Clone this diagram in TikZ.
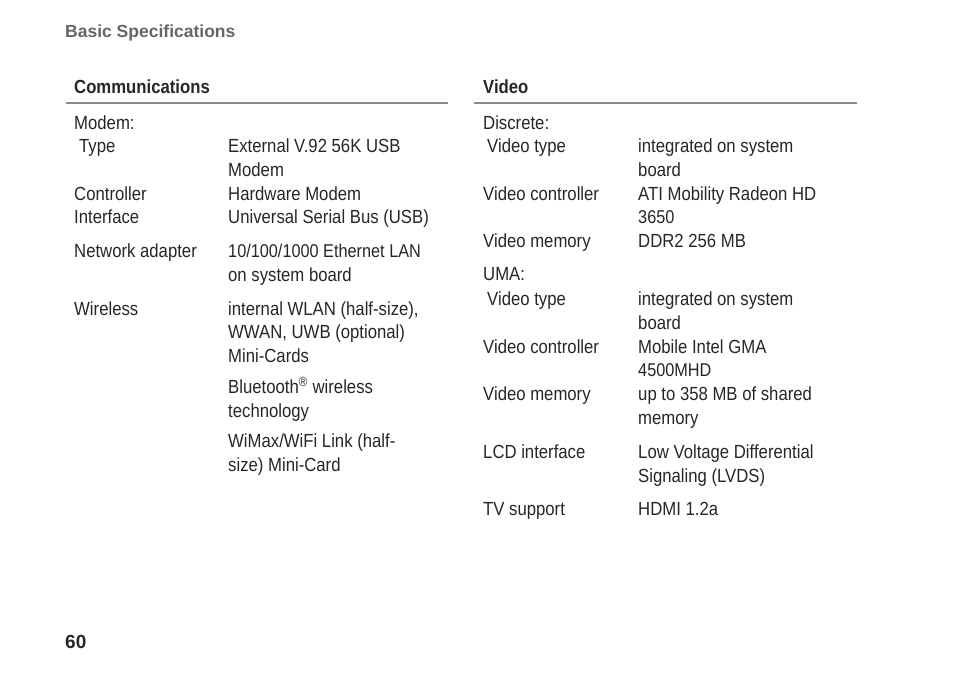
\documentclass[tikz,border=0pt]{standalone}
\usepackage{fontspec}
\setmainfont{Liberation Sans}[FakeStretch=0.88]
\newfontfamily\hdfont{Liberation Sans}
\begin{document}
\begin{tikzpicture}[x=1pt,y=-1pt,
  tx/.style={anchor=base west,inner sep=0pt,font=\fontsize{19}{20}\selectfont,text=black!85},
  sm/.style={tx,font=\fontsize{18.5}{20}\selectfont},
  hd/.style={tx,font=\fontsize{19}{20}\selectfont\bfseries},
  rl/.style={draw=black!45,line width=1.2pt}]
\useasboundingbox (0,0) rectangle (954,677);
\node[anchor=base west,inner sep=0pt,font=\hdfont\fontsize{17.5}{20}\selectfont\bfseries,text=black!60] (title) at (65,38) {Basic Specifications};
\node[hd] (hc) at (74,93) {Communications};
\node[hd] (hv) at (483,93) {Video};
\draw[rl] (66,103) -- (448,103);
\draw[rl] (474,103) -- (857,103);
% left
\node[tx] (a1) at (74,129) {Modem:};
\node[tx] (a2) at (79,152) {Type};
\node[tx] (b2) at (228,152) {External V.92 56K USB};
\node[tx] (b3) at (228,176) {Modem};
\node[tx] (a4) at (74,200) {Controller};
\node[tx] (b4) at (228,200) {Hardware Modem};
\node[tx] (a5) at (74,223) {Interface};
\node[tx] (b5) at (228,223) {Universal Serial Bus (USB)};
\node[tx] (a6) at (74,257) {Network adapter};
\node[sm] (b6) at (228,257) {10/100/1000 Ethernet LAN};
\node[tx] (b7) at (228,281) {on system board};
\node[tx] (a8) at (74,315) {Wireless};
\node[tx] (b8) at (228,315) {internal WLAN (half-size),};
\node[tx] (b9) at (228,338) {WWAN, UWB (optional)};
\node[tx] (b10) at (228,362) {Mini-Cards};
\node[tx] (b11) at (228,393) {Bluetooth\textsuperscript{\textregistered} wireless};
\node[tx] (b12) at (228,417) {technology};
\node[tx] (b13) at (228,447) {WiMax/WiFi Link (half-};
\node[tx] (b14) at (228,471) {size) Mini-Card};
% right
\node[tx] (c1) at (483,129) {Discrete:};
\node[tx] (c2) at (487,152) {Video type};
\node[tx] (d2) at (638,152) {integrated on system};
\node[tx] (d3) at (638,176) {board};
\node[tx] (c4) at (483,200) {Video controller};
\node[tx] (d4) at (638,200) {ATI Mobility Radeon HD};
\node[sm] (d5) at (638,223) {3650};
\node[tx] (c6) at (483,247) {Video memory};
\node[tx] (d6) at (638,247) {DDR2 256 MB};
\node[tx] (c7) at (483,280) {UMA:};
\node[tx] (c8) at (487,305) {Video type};
\node[tx] (d8) at (638,305) {integrated on system};
\node[tx] (d9) at (638,329) {board};
\node[tx] (c10) at (483,353) {Video controller};
\node[tx] (d10) at (638,353) {Mobile Intel GMA};
\node[sm] (d11) at (638,376) {4500MHD};
\node[tx] (c12) at (483,400) {Video memory};
\node[tx] (d12) at (638,400) {up to 358 MB of shared};
\node[tx] (d13) at (638,424) {memory};
\node[tx] (c14) at (483,458) {LCD interface};
\node[tx] (d14) at (638,458) {Low Voltage Differential};
\node[tx] (d15) at (638,482) {Signaling (LVDS)};
\node[tx] (c16) at (483,515) {TV support};
\node[tx] (d16) at (638,515) {HDMI 1.2a};
\node[hd,font=\hdfont\fontsize{19}{20}\selectfont\bfseries] (pg) at (65,648) {60};
\end{tikzpicture}
\end{document}
